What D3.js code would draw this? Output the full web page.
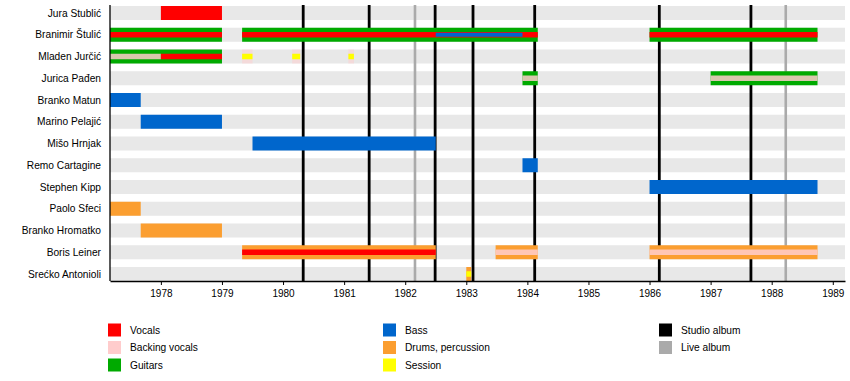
<!DOCTYPE html>
<html><head><meta charset="utf-8">
<script src="https://cdn.jsdelivr.net/npm/d3@7"></script>
<style>
html,body{margin:0;padding:0;background:#fff;}
svg{display:block;font-family:"Liberation Sans",Arial,sans-serif;}
</style></head>
<body><svg id="c" width="850" height="381"></svg>
<script>
// ---- data ----
const members = ["Jura Stublić","Branimir Štulić","Mladen Jurčić","Jurica Pađen","Branko Matun","Marino Pelajić","Mišo Hrnjak","Remo Cartagine","Stephen Kipp","Paolo Sfeci","Branko Hromatko","Boris Leiner","Srećko Antonioli"];
const years = [1978,1979,1980,1981,1982,1983,1984,1985,1986,1987,1988,1989];
const periodStart = 1977.167, periodEnd = 1989.2;
// full-height stints: [member, role, from, till]
const mainStints = [
  ["Jura Stublić","Vocals",1978.0,1979.0],
  ["Branimir Štulić","Guitars",periodStart,1979.0],
  ["Branimir Štulić","Guitars",1979.33,1984.17],
  ["Branimir Štulić","Guitars",1986.0,1988.75],
  ["Mladen Jurčić","Guitars",periodStart,1979.0],
  ["Mladen Jurčić","Backing vocals",1979.33,1979.5],
  ["Mladen Jurčić","Backing vocals",1980.15,1980.28],
  ["Mladen Jurčić","Backing vocals",1981.07,1981.16],
  ["Jurica Pađen","Guitars",1983.92,1984.17],
  ["Jurica Pađen","Guitars",1987.0,1988.75],
  ["Branko Matun","Bass",periodStart,1977.67],
  ["Marino Pelajić","Bass",1977.67,1979.0],
  ["Mišo Hrnjak","Bass",1979.5,1982.5],
  ["Remo Cartagine","Bass",1983.92,1984.17],
  ["Stephen Kipp","Bass",1986.0,1988.75],
  ["Paolo Sfeci","Drums, percussion",periodStart,1977.67],
  ["Branko Hromatko","Drums, percussion",1977.67,1979.0],
  ["Boris Leiner","Drums, percussion",1979.33,1982.5],
  ["Boris Leiner","Drums, percussion",1983.48,1984.17],
  ["Boris Leiner","Drums, percussion",1986.0,1988.75],
  ["Srećko Antonioli","Drums, percussion",1983.0,1983.08]
];
// secondary roles (narrow band)
const secondStints = [
  ["Branimir Štulić","Vocals",periodStart,1979.0],
  ["Branimir Štulić","Vocals",1979.33,1984.17],
  ["Branimir Štulić","Vocals",1986.0,1988.75],
  ["Mladen Jurčić","Backing vocals",periodStart,1978.0],
  ["Mladen Jurčić","Vocals",1978.0,1979.0],
  ["Mladen Jurčić","Session",1979.33,1979.5],
  ["Mladen Jurčić","Session",1980.15,1980.28],
  ["Mladen Jurčić","Session",1981.07,1981.16],
  ["Jurica Pađen","Backing vocals",1983.92,1984.17],
  ["Jurica Pađen","Backing vocals",1987.0,1988.75],
  ["Boris Leiner","Vocals",1979.33,1982.5],
  ["Boris Leiner","Backing vocals",1983.48,1984.17],
  ["Boris Leiner","Backing vocals",1986.0,1988.75],
  ["Srećko Antonioli","Session",1983.0,1983.08]
];
// tertiary roles (thin band)
const thirdStints = [
  ["Branimir Štulić","Bass",1982.5,1983.92]
];
const studioAlbums = [1980.33,1981.41,1982.49,1983.11,1984.12,1986.16,1987.66];
const liveAlbums = [1982.16,1988.23];
const legendItems = ["Vocals","Backing vocals","Guitars","Bass","Drums, percussion","Session","Studio album","Live album"];

// ---- styles ----
const colors = {
  "Vocals":"#ff0000","Backing vocals":"#ffcccc","Guitars":"#00aa00","Bass":"#0066cc",
  "Drums, percussion":"#fb9e30","Session":"#ffff00","Studio album":"#000000","Live album":"#aaaaaa"
};
const opac = r => r==="Backing vocals" ? 0.85 : 1;

const svg = d3.select("#c");
const x = d3.scaleLinear().domain([periodStart, periodEnd]).range([110, 845]);
const y = d3.scalePoint().domain(members).range([13, 274]);
const axisY = 281, topY = 5;

// background bars
svg.append("g").selectAll("rect").data(members).join("rect")
  .attr("x", x(periodStart)).attr("width", x(periodEnd)-x(periodStart))
  .attr("y", d => y(d)-7).attr("height", 14).attr("fill", "#e8e8e8");

// album lines
svg.append("g").selectAll("line").data(liveAlbums).join("line")
  .attr("x1", d=>x(d)).attr("x2", d=>x(d)).attr("y1", topY).attr("y2", axisY)
  .attr("stroke", colors["Live album"]).attr("stroke-width", 2.6);
svg.append("g").selectAll("line").data(studioAlbums).join("line")
  .attr("x1", d=>x(d)).attr("x2", d=>x(d)).attr("y1", topY).attr("y2", axisY)
  .attr("stroke", colors["Studio album"]).attr("stroke-width", 2.8);

function layer(data, h) {
  svg.append("g").selectAll("rect").data(data).join("rect")
    .attr("x", d => x(d[2])).attr("width", d => x(d[3]) - x(d[2]))
    .attr("y", d => y(d[0]) - h/2).attr("height", h)
    .attr("fill", d => colors[d[1]]).attr("fill-opacity", d => d[1]==="Backing vocals" && h===14 ? 0.5 : opac(d[1]));
}
layer(mainStints, 14);
layer(secondStints, 5.5);
layer(thirdStints, 4);

// names
svg.append("g").selectAll("text").data(members).join("text")
  .attr("x", 101).attr("y", d => y(d)).attr("dy", "0.35em")
  .attr("text-anchor", "end").attr("font-size", "10.2px").attr("fill", "#000")
  .text(d => d);

// axes
svg.append("line").attr("x1", 110).attr("x2", 110).attr("y1", topY).attr("y2", axisY)
  .attr("stroke", "#000").attr("stroke-width", 1.3);
const ax = svg.append("g").attr("transform", `translate(0,${axisY})`)
  .call(d3.axisBottom(x).tickValues(years).tickFormat(d3.format("d")).tickSize(4).tickSizeOuter(0).tickPadding(5));
ax.select(".domain").attr("stroke", "#000").attr("stroke-width", 1.3);
ax.selectAll(".tick line").attr("stroke", "#000");
ax.selectAll(".tick text").attr("font-size", "10px").attr("fill", "#000")
  .attr("font-family", '"Liberation Sans",Arial,sans-serif');

// legend
const colX = [108, 383, 659];
const rowY = [330, 347.5, 365];
const lg = svg.append("g").selectAll("g").data(legendItems).join("g")
  .attr("transform", (d,i) => `translate(${colX[Math.floor(i/3)]},${rowY[i%3]})`);
lg.append("rect").attr("x", 0).attr("y", -6.5).attr("width", 13).attr("height", 13)
  .attr("fill", d => colors[d]);
lg.append("text").attr("x", 22).attr("dy", "0.35em").attr("font-size", "10.2px").attr("fill", "#000")
  .text(d => d);
</script>
</body></html>
